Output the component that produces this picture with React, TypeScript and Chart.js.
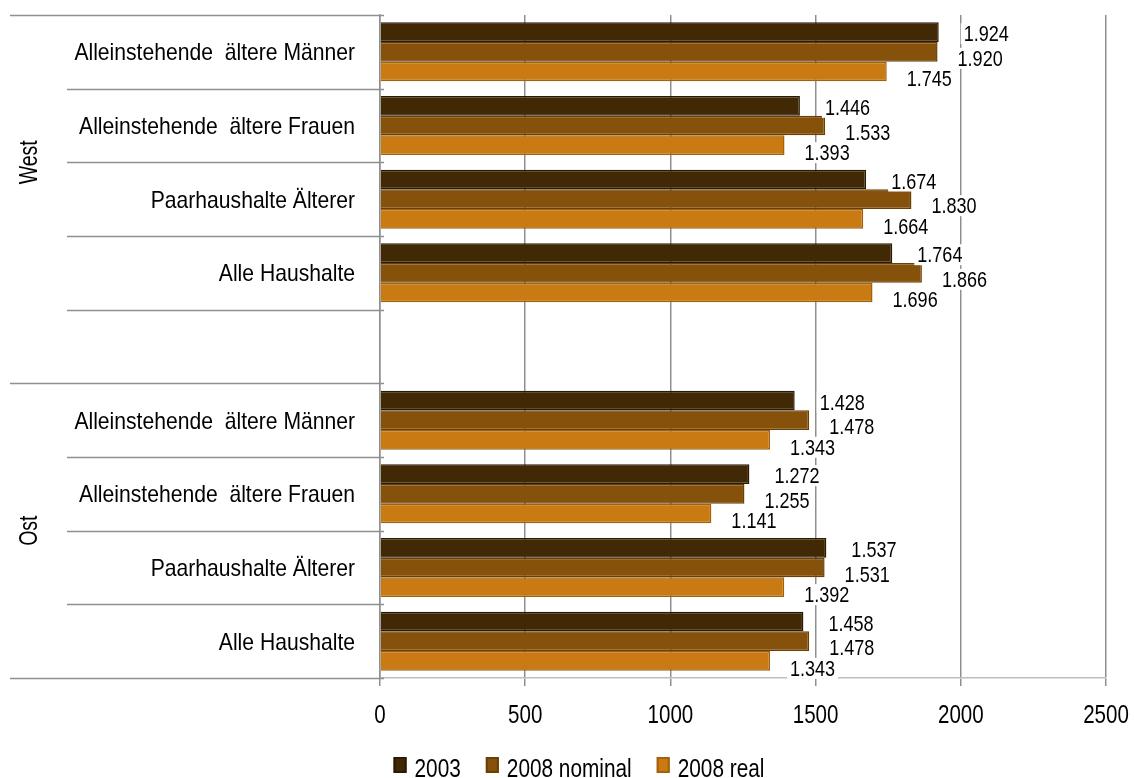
import React, { useEffect, useRef } from 'react';
import { Chart, registerables } from 'chart.js';

Chart.register(...registerables);

const groups = ['West', 'Ost'];
const categories = [
  'Alleinstehende  ältere Männer',
  'Alleinstehende  ältere Frauen',
  'Paarhaushalte Älterer',
  'Alle Haushalte',
];
const seriesNames = ['2003', '2008 nominal', '2008 real'];
const west2003 = [1924, 1446, 1674, 1764];
const westNominal = [1920, 1533, 1830, 1866];
const westReal = [1745, 1393, 1664, 1696];
const ost2003 = [1428, 1272, 1537, 1458];
const ostNominal = [1478, 1255, 1531, 1478];
const ostReal = [1343, 1141, 1392, 1343];
const xMin = 0;
const xMax = 2500;
const xStep = 500;

const fillColors = ['#422905', '#86520b', '#c97a12'];
const borderColors = ['#2a1903', '#693f06', '#a2610b'];

const FONT = "'Liberation Sans', Arial, sans-serif";

const fmt = (v: number) => {
  const s = String(Math.round(v));
  return s.replace(/\B(?=(\d{3})+(?!\d))/g, '.');
};

// draws horizontally condensed text (like Arial Narrow)
function drawText(
  ctx: CanvasRenderingContext2D,
  text: string,
  x: number,
  y: number,
  size: number,
  sx: number,
  align: CanvasTextAlign,
  rotate = 0
) {
  ctx.save();
  ctx.translate(x, y);
  if (rotate) ctx.rotate(rotate);
  ctx.scale(sx, 1);
  ctx.font = `${size}px ${FONT}`;
  ctx.textAlign = align;
  ctx.textBaseline = 'alphabetic';
  ctx.fillText(text, 0, 0);
  ctx.restore();
}

function textWidth(ctx: CanvasRenderingContext2D, text: string, size: number, sx: number) {
  ctx.save();
  ctx.font = `${size}px ${FONT}`;
  const w = ctx.measureText(text).width * sx;
  ctx.restore();
  return w;
}

export default function App() {
  const ref = useRef<HTMLCanvasElement | null>(null);

  useEffect(() => {
    document.body.style.margin = '0';
    document.body.style.overflow = 'hidden';
    const canvas = ref.current;
    if (!canvas) return;

    const labels = [...categories, '', ...categories];
    const seriesData = [
      [...west2003, null, ...ost2003],
      [...westNominal, null, ...ostNominal],
      [...westReal, null, ...ostReal],
    ];

    const sidePlugin = {
      id: 'sideDecor',
      afterDraw(chart: any) {
        const ctx = chart.ctx as CanvasRenderingContext2D;
        const ys = chart.scales.y;
        const xs = chart.scales.x;
        const area = chart.chartArea;
        const step = ys.getPixelForValue(1) - ys.getPixelForValue(0);
        const first = ys.getPixelForValue(0) - step / 2;
        const n = labels.length;
        const per = categories.length + 1;
        ctx.save();
        ctx.strokeStyle = '#8f8f8f';
        ctx.lineWidth = 1.5;
        for (let k = 0; k <= n; k++) {
          const y = Math.round(first + k * step) + 0.5;
          const outer = k === 0 || k === n || k % per === 0;
          ctx.beginPath();
          ctx.moveTo(outer ? 10 : 67, y);
          ctx.lineTo(area.left + 4, y);
          ctx.stroke();
        }
        ctx.fillStyle = '#000';
        // category labels
        labels.forEach((lab, i) => {
          if (!lab) return;
          const cy = ys.getPixelForValue(i);
          drawText(ctx, lab, area.left - 25, cy + 8.5, 24, 0.88, 'right');
        });
        // x tick labels
        xs.ticks.forEach((t: any) => {
          drawText(ctx, String(t.value), xs.getPixelForValue(t.value), 723, 26, 0.79, 'center');
        });
        // group labels
        groups.forEach((g, gi) => {
          const y0 = first + gi * per * step;
          const y1 = y0 + categories.length * step;
          drawText(ctx, g, 37, (y0 + y1) / 2, 25, 0.78, 'center', -Math.PI / 2);
        });
        // legend
        const boxW = 13;
        const boxH = 16;
        const gapBox = 8;
        const gapItem = 25;
        const lsize = 26;
        const lsx = 0.8;
        const widths = seriesNames.map((s) => textWidth(ctx, s, lsize, lsx));
        let total = 0;
        widths.forEach((w, i) => {
          total += boxW + gapBox + w + (i < widths.length - 1 ? gapItem : 0);
        });
        let x = chart.width / 2 + 12 - total / 2;
        const base = 777;
        seriesNames.forEach((s, i) => {
          ctx.fillStyle = fillColors[i];
          ctx.fillRect(x, 757, boxW, boxH);
          ctx.strokeStyle = borderColors[i];
          ctx.lineWidth = 2;
          ctx.strokeRect(x + 1, 758, boxW - 2, boxH - 2);
          ctx.fillStyle = '#000';
          drawText(ctx, s, x + boxW + gapBox, base, lsize, lsx, 'left');
          x += boxW + gapBox + widths[i] + gapItem;
        });
        ctx.restore();
      },
    };

    const labelOffsetX = [25, 20, 20];
    const labelBaseDy = [9, 14, 15];
    const valuePlugin = {
      id: 'valueLabels',
      afterDatasetsDraw(chart: any) {
        const ctx = chart.ctx as CanvasRenderingContext2D;
        ctx.save();
        chart.data.datasets.forEach((ds: any, i: number) => {
          const meta = chart.getDatasetMeta(i);
          meta.data.forEach((bar: any, j: number) => {
            const v = ds.data[j];
            if (v == null) return;
            const t = fmt(v);
            const w = textWidth(ctx, t, 22, 0.82);
            const x = bar.x + labelOffsetX[i];
            const base = bar.y + labelBaseDy[i];
            ctx.fillStyle = '#ffffff';
            ctx.fillRect(x - 3, base - 18, w + 6, 21);
            ctx.fillStyle = '#000';
            drawText(ctx, t, x, base, 22, 0.82, 'left');
          });
        });
        ctx.restore();
      },
    };

    const chart = new Chart(canvas, {
      type: 'bar',
      data: {
        labels,
        datasets: seriesNames.map((name, i) => ({
          label: name,
          data: seriesData[i],
          backgroundColor: fillColors[i],
          borderColor: borderColors[i],
          borderWidth: 1.5,
          borderSkipped: 'start',
          categoryPercentage: 0.8,
          barPercentage: 1.0,
        })),
      },
      options: {
        indexAxis: 'y',
        animation: false,
        responsive: false,
        maintainAspectRatio: false,
        layout: { padding: { top: 15, right: 28, bottom: 0, left: 0 } },
        plugins: {
          legend: { display: false },
          tooltip: { enabled: false },
        },
        scales: {
          x: {
            min: xMin,
            max: xMax,
            ticks: {
              stepSize: xStep,
              display: false,
            },
            grid: {
              color: '#8f8f8f',
              lineWidth: 1.5,
              tickLength: 8,
            },
            border: { display: true, color: '#bdbdbd', width: 1.5 },
            afterFit(scale: any) {
              scale.height = 100;
            },
          },
          y: {
            ticks: { display: false, autoSkip: false },
            grid: { display: false, drawTicks: false },
            border: { display: true, color: '#8f8f8f', width: 1.5 },
            afterFit(scale: any) {
              scale.width = 380;
            },
          },
        },
      },
      plugins: [valuePlugin, sidePlugin],
    });

    return () => chart.destroy();
  }, []);

  return <canvas ref={ref} width={1134} height={778} style={{ display: 'block' }} />;
}
